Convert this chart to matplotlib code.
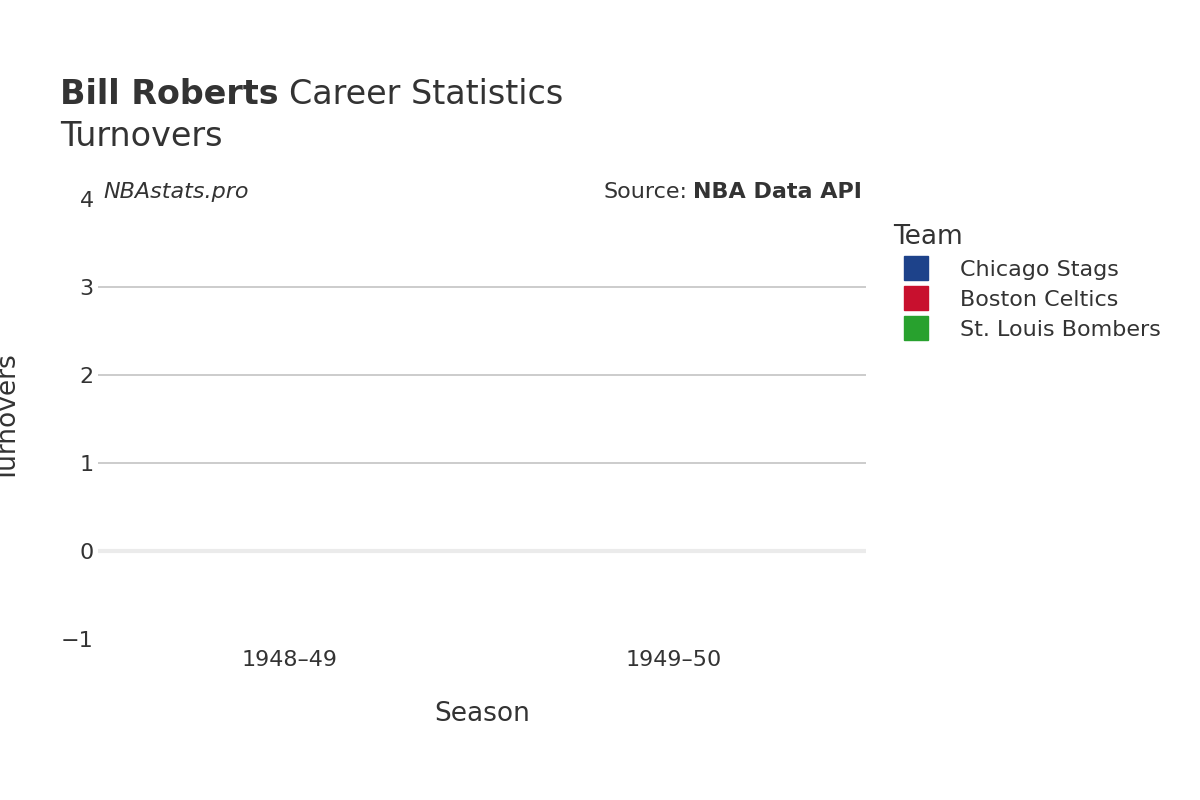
import matplotlib

matplotlib.use("Agg")
import matplotlib.pyplot as plt  # noqa: E402
from matplotlib.lines import Line2D  # noqa: E402

seasons = ["1948–49", "1949–50"]
teams = ["Chicago Stags", "Boston Celtics", "St. Louis Bombers"]
team_colors = ["#1d428a", "#c8102e", "#28a12e"]
# no turnover values were recorded for these seasons
turnovers = {team: [None, None] for team in teams}

plt.rcParams["font.family"] = ["DejaVu Sans"]
text_color = "#333333"

fig = plt.figure(figsize=(12, 8), dpi=100)
ax = fig.add_axes([0.0817, 0.20125, 0.64, 0.55])

for team, color in zip(teams, team_colors):
    vals = turnovers[team]
    xs = [i for i, v in enumerate(vals) if v is not None]
    ys = [v for v in vals if v is not None]
    if xs:
        ax.plot(xs, ys, color=color, marker="o")

ax.set_xlim(-0.5, len(seasons) - 0.5)
ax.set_ylim(-1, 4)
ax.set_xticks(range(len(seasons)))
ax.set_xticklabels(seasons)
ax.set_yticks([-1, 0, 1, 2, 3, 4])
ax.set_yticklabels(["−1", "0", "1", "2", "3", "4"])
for y in [1, 2, 3]:
    ax.axhline(y, color="#c8c8c8", lw=1.3, zorder=0)
ax.axhline(0, color="#ebebeb", lw=3, zorder=0)
for s in ax.spines.values():
    s.set_visible(False)
ax.tick_params(length=0, labelsize=16, colors=text_color, pad=3)
ax.tick_params(axis="x", pad=8)
ax.set_xlabel("Season", fontsize=19, color=text_color, labelpad=22)
ax.set_ylabel("Turnovers", fontsize=19, color=text_color, labelpad=28)

fig.canvas.draw()
renderer = fig.canvas.get_renderer()

t1 = fig.text(0.05, 0.87, "Bill Roberts", fontsize=24, fontweight="bold", color=text_color)
w1 = t1.get_window_extent(renderer).width / 1200
fig.text(0.05 + w1 + 0.009, 0.87, "Career Statistics", fontsize=24, color=text_color)
fig.text(0.05, 0.817, "Turnovers", fontsize=24, color=text_color)
fig.text(0.086, 0.753, "NBAstats.pro", fontsize=16, style="italic", color=text_color)
t2 = fig.text(0.7185, 0.753, "NBA Data API", fontsize=16, fontweight="bold",
              color=text_color, ha="right")
w2 = t2.get_window_extent(renderer).width / 1200
fig.text(0.7185 - w2 - 0.005, 0.753, "Source:", fontsize=16, color=text_color, ha="right")

handles = [Line2D([], [], marker="s", ls="", markersize=17, color=c) for c in team_colors]
leg = fig.legend(handles, teams, loc="upper left", bbox_to_anchor=(0.728, 0.745),
                 frameon=False, fontsize=16, title="Team", title_fontsize=19,
                 labelcolor=text_color, handletextpad=1.0, labelspacing=0.45)
leg.get_title().set_color(text_color)
leg._legend_box.align = "left"

fig.savefig("out.png", dpi=100)
